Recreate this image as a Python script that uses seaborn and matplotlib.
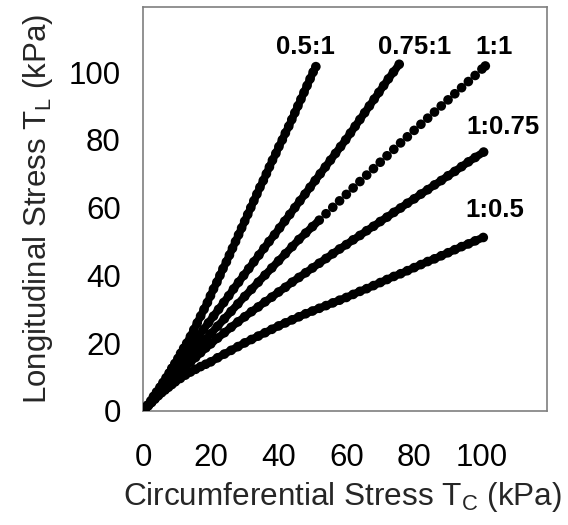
import numpy as np
import pandas as pd
import matplotlib
matplotlib.use("Agg")
import matplotlib.pyplot as plt
import seaborn as sns

# ---- data (TC = circumferential stress, TL = longitudinal stress, kPa) ----
tc_1_1 = [0.5, 1.5, 2.5, 3.5, 4.5, 5.5, 6.5, 7.5, 8.5, 9.5, 11, 12.5, 14, 15.5, 17, 18.5, 20,
          22, 24, 26, 28, 30, 32, 34, 36, 38, 40, 42, 44, 46, 48, 50, 52, 54, 56, 58, 60,
          62, 64, 66, 68, 70, 72, 74, 76, 78, 80, 82, 84, 86, 88, 90, 92, 94, 96, 98, 100, 101]
tl_1_1 = [0.5, 1.6, 2.7, 3.8, 4.9, 6.1, 7.2, 8.4, 9.6, 10.8, 12.6, 14.3, 16, 17.7, 19.4, 21.1, 22.8,
          25, 27.2, 29.4, 31.6, 33.8, 35.9, 38, 40.1, 42.2, 44.3, 46.4, 48.5, 50.6, 52.5, 54.4, 56.3, 58.2, 60.1, 62, 63.9,
          65.8, 67.7, 69.6, 71.5, 73.4, 75.3, 77.2, 79.1, 80.9, 82.8, 84.6, 86.4, 88.2, 90, 91.8, 93.6, 95.4, 97.2, 99, 100.9, 101.8]

tc_1_075 = [0.5, 1.5, 2.5, 3.5, 4.5, 5.5, 6.5, 7.5, 8.5, 9.5, 11, 12.5, 14, 15.5, 17, 18.5, 20,
            22, 24, 26, 28, 30, 32, 34, 36, 38, 40, 42, 44, 46, 48, 50, 52, 54, 56, 58, 60,
            62, 64, 66, 68, 70, 72, 74, 76, 78, 80, 82, 84, 86, 88, 90, 92, 94, 96, 98, 100.5]
tl_1_075 = [0.5, 1.6, 2.6, 3.7, 4.8, 5.8, 6.9, 7.9, 8.9, 10, 11.5, 12.9, 14.4, 15.8, 17.2, 18.6, 19.8,
            21.5, 23.1, 24.7, 26.3, 27.8, 29.3, 30.7, 32.2, 33.6, 35.1, 36.5, 38, 39.4, 40.8, 42.2, 43.6, 45, 46.4, 47.8, 49.1,
            50.5, 51.8, 53.2, 54.5, 55.9, 57.2, 58.6, 59.9, 61.3, 62.6, 64, 65.3, 66.7, 68, 69.4, 70.7, 72.1, 73.5, 74.8, 76.4]

tc_1_05 = [0.5, 1.5, 2.5, 3.5, 4.5, 5.5, 6.5, 7.5, 8.5, 9.5, 11, 12.5, 14, 15.5, 17, 18.5, 20,
           22, 24, 26, 28, 30, 32, 34, 36, 38, 40, 42, 44, 46, 48, 50, 52, 54, 56, 58, 60,
           62, 64, 66, 68, 70, 72, 74, 76, 78, 80, 82, 84, 86, 88, 90, 92, 94, 96, 98, 100.4]
tl_1_05 = [0.5, 1.5, 2.5, 3.5, 4.5, 5.4, 6.2, 7, 7.8, 8.6, 9.6, 10.6, 11.5, 12.3, 13.1, 13.8, 14.5,
           15.7, 16.8, 17.9, 19, 20.1, 21.1, 22.1, 23.1, 24.1, 25.1, 26, 26.9, 27.8, 28.7, 29.5, 30.3, 31.1, 31.9, 32.7, 33.5,
           34.4, 35.3, 36.1, 37, 37.9, 38.8, 39.7, 40.5, 41.4, 42.3, 43.2, 44.1, 44.9, 45.8, 46.7, 47.6, 48.5, 49.3, 50.2, 51.2]

tl_075_1 = [0.5, 1.7, 3, 4.3, 5.6, 7, 8.4, 9.8, 11.2, 12.6, 14, 15.5, 17, 18.5, 20, 22, 24, 26, 28, 30,
            32, 34, 36, 38, 40, 42, 44, 46, 48, 50, 52, 54, 56, 58, 60, 62, 64, 66, 68, 70,
            72, 74, 76, 78, 80, 82, 84, 86, 88, 90, 92, 94, 96, 98, 100, 102.3]
tc_075_1 = [0.5, 1.5, 2.6, 3.7, 4.7, 5.7, 6.7, 7.7, 8.7, 9.7, 10.7, 11.8, 12.9, 14, 15, 16.4, 17.8, 19.3, 20.8, 22.3,
            23.8, 25.3, 26.7, 28.2, 29.7, 31.2, 32.7, 34.2, 35.7, 37.2, 38.8, 40.3, 41.8, 43.3, 44.8, 46.3, 47.8, 49.3, 50.8, 52.3,
            53.8, 55.3, 56.8, 58.3, 59.8, 61.2, 62.6, 64, 65.4, 66.8, 68.2, 69.6, 71, 72.4, 73.9, 75.6]

tl_05_1 = [0.5, 1.7, 3, 4.3, 5.6, 7, 8.4, 9.8, 11.2, 12.6, 14, 15.5, 17, 18.5, 20, 22, 24, 26, 28, 30,
           32, 34, 36, 38, 40, 42, 44, 46, 48, 50, 52, 54, 56, 58, 60, 62, 64, 66, 68, 70,
           72, 74, 76, 78, 80, 82, 84, 86, 88, 90, 92, 94, 96, 98, 100, 101.6]
tc_05_1 = [0.5, 1.3, 2.3, 3.1, 4, 5, 5.9, 6.8, 7.7, 8.5, 9.4, 10.3, 11.1, 12, 12.9, 14, 15, 16, 17, 18,
           19, 19.9, 20.8, 21.8, 22.7, 23.6, 24.6, 25.5, 26.4, 27.3, 28.2, 29.1, 30, 30.9, 31.8, 32.7, 33.6, 34.5, 35.5, 36.4,
           37.3, 38.2, 39.2, 40.1, 41.1, 42, 43, 43.9, 44.8, 45.7, 46.6, 47.5, 48.4, 49.3, 50.2, 51]

series_names = ["0.5:1", "0.75:1", "1:1", "1:0.75", "1:0.5"]
dense_series = ["0.5:1", "0.75:1", "1:0.75", "1:0.5"]
label_x = [47.8, 80.2, 103.7, 106.3, 103.8]
label_y = [107.4, 107.4, 107.4, 83.9, 59.3]
x_ticks = [0, 20, 40, 60, 80, 100]
y_ticks = [0, 20, 40, 60, 80, 100]

frames = []
for name, tc, tl in zip(series_names,
                        [tc_05_1, tc_075_1, tc_1_1, tc_1_075, tc_1_05],
                        [tl_05_1, tl_075_1, tl_1_1, tl_1_075, tl_1_05]):
    frames.append(pd.DataFrame({"TC": tc, "TL": tl, "ratio": name}))
df = pd.concat(frames, ignore_index=True)

sns.set_style("white")
plt.rcParams["font.family"] = ["Liberation Sans", "DejaVu Sans"]
plt.rcParams["mathtext.fontset"] = "custom"
plt.rcParams["mathtext.rm"] = "Liberation Sans"

fig = plt.figure(figsize=(5.68, 5.25), dpi=100)
ax = fig.add_axes([143 / 568, 1 - 411 / 525, (547 - 143) / 568, (411 - 7) / 525])

# dense (merged) parts: the dots overlap into a continuous band
dense = df[df["ratio"].isin(dense_series) | ((df["ratio"] == "1:1") & (df["TC"] <= 52))]
sns.lineplot(data=dense, x="TC", y="TL", units="ratio", estimator=None, sort=False,
             color="black", linewidth=5.6, legend=False, ax=ax, zorder=2,
             solid_capstyle="round")
sns.scatterplot(data=df, x="TC", y="TL", hue="ratio", palette=["black"] * 5,
                s=48, linewidth=0, legend=False, ax=ax, zorder=3)

for name, lx, ly in zip(series_names, label_x, label_y):
    ax.text(lx, ly, name, ha="center", va="center", fontsize=18.5, fontweight="bold", color="black")

ax.set_xlim(0, 119.2)
ax.set_ylim(0, 119.2)
ax.set_xticks(x_ticks)
ax.set_yticks(y_ticks)
ax.tick_params(axis="both", which="major", direction="out", length=5, width=1,
               color="#555555", labelsize=22.5, labelcolor="black")
ax.tick_params(axis="x", pad=18)
ax.tick_params(axis="y", pad=11)
for sp in ax.spines.values():
    sp.set_visible(True)
    sp.set_color("#7f7f7f")
    sp.set_linewidth(1.2)

xl = ax.set_xlabel(r"Circumferential Stress T$_\mathregular{C}$ (kPa)", fontsize=22.7, labelpad=6)
ax.xaxis.set_label_coords((342 - 143) / (547 - 143), -0.2)
ax.xaxis.label.set_va("center")
ax.xaxis.set_label_coords((342 - 143) / (547 - 143), -(497 - 411) / (411 - 7))
ax.set_ylabel(r"Longitudinal Stress T$_\mathregular{L}$ (kPa)", fontsize=22.5, labelpad=10)

fig.savefig("out.png", dpi=100)
